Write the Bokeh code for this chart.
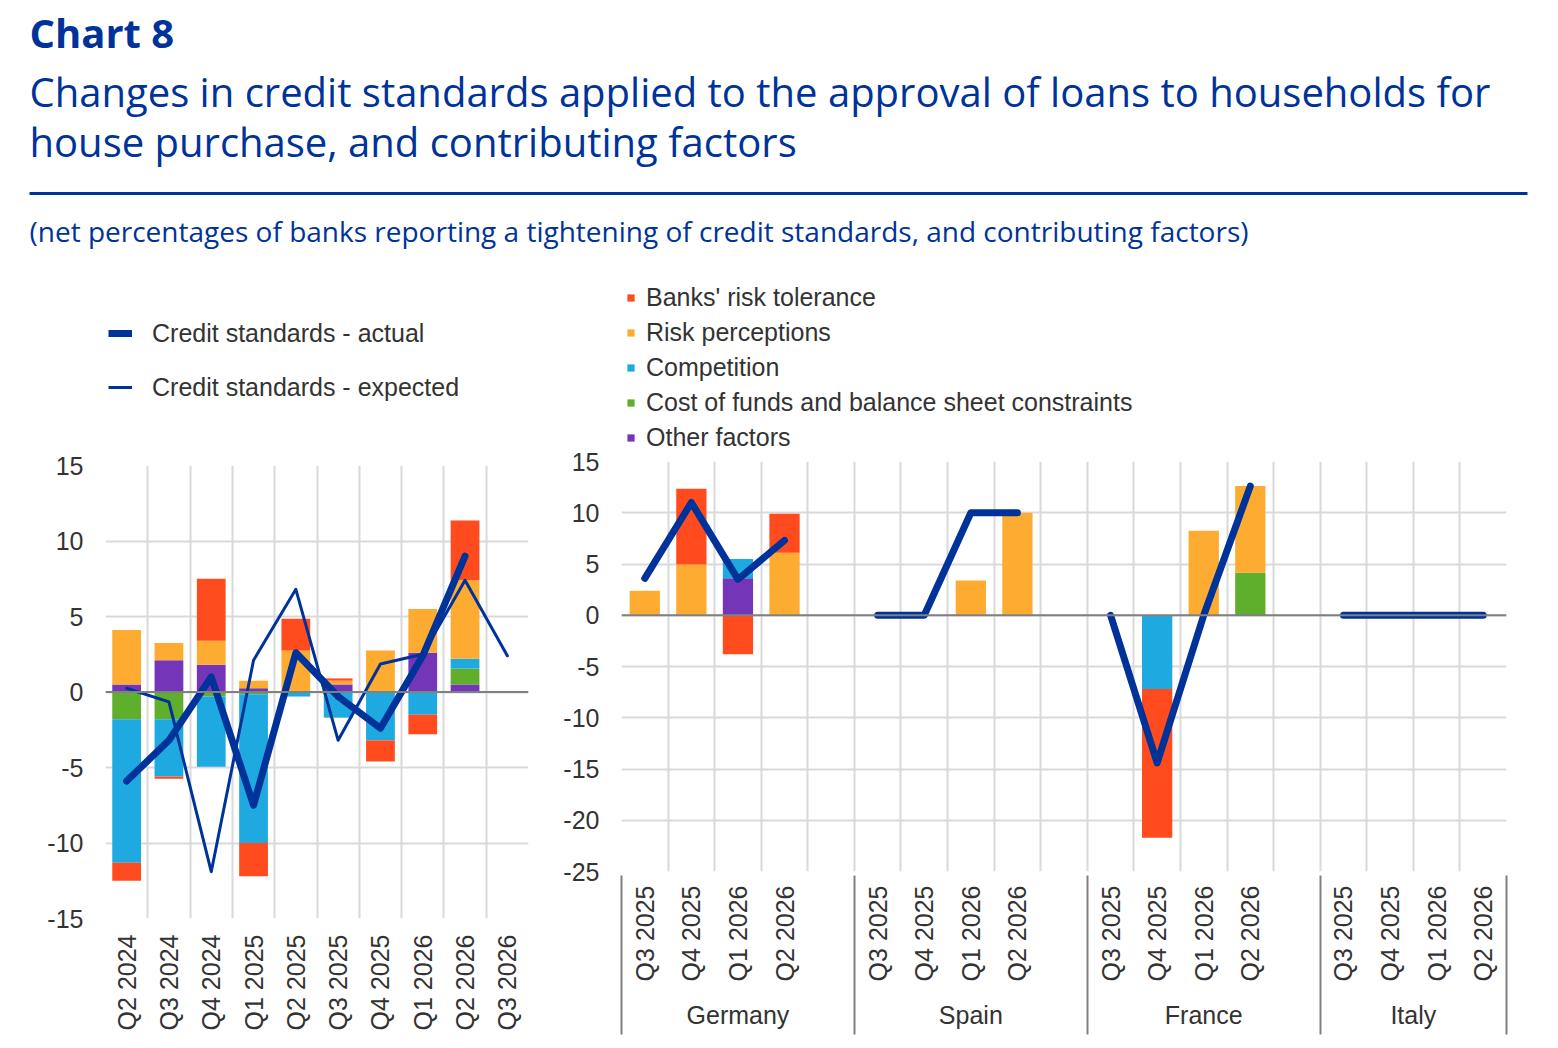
import numpy as np
from bokeh.plotting import figure
from bokeh.models import Range1d, FixedTicker, Span, Legend, LegendItem, LinearAxis
from bokeh.layouts import column, row
from bokeh.embed import file_html
from bokeh.resources import INLINE
from bokeh.core.properties import value

# ---------------- data ----------------
left_quarters = ["Q2 2024", "Q3 2024", "Q4 2024", "Q1 2025", "Q2 2025",
                 "Q3 2025", "Q4 2025", "Q1 2026", "Q2 2026", "Q3 2026"]
left_risk_tolerance = [-1.2, -0.15, 4.1, -2.2, 2.1, 0.15, -1.4, -1.3, 3.95, 0.0]
left_risk_perceptions = [3.6, 1.15, 1.6, 0.5, 2.75, 0.25, 2.75, 2.9, 5.2, 0.0]
left_competition = [-9.5, -3.8, -4.65, -9.85, -0.3, -1.7, -3.2, -1.5, 0.65, 0.0]
left_cost_of_funds = [-1.8, -1.8, -0.3, -0.15, 0.0, 0.0, 0.0, 0.0, 1.05, 0.0]
left_other = [0.5, 2.1, 1.8, 0.25, 0.0, 0.5, 0.0, 2.6, 0.5, 0.0]
left_actual = [-5.9, -3.2, 1.0, -7.5, 2.6, -0.3, -2.4, 2.4, 9.0, np.nan]
left_expected = [0.25, -0.65, -11.9, 2.1, 6.8, -3.2, 1.85, 2.5, 7.4, 2.4]

countries = ["Germany", "Spain", "France", "Italy"]
country_quarters = ["Q3 2025", "Q4 2025", "Q1 2026", "Q2 2026"]
# values per country (Germany, Spain, France, Italy), each for the four quarters
right_risk_tolerance = [[0.0, 7.4, -3.8, 3.8], [0, 0, 0, 0], [0.0, -14.5, 0.0, 0.0], [0, 0, 0, 0]]
right_risk_perceptions = [[2.4, 4.95, 0.0, 6.1], [0.0, 0.0, 3.4, 10.0], [0.0, 0.0, 8.25, 8.45], [0, 0, 0, 0]]
right_competition = [[0.0, 0.0, 1.9, 0.0], [0, 0, 0, 0], [0.0, -7.2, 0.0, 0.0], [0, 0, 0, 0]]
right_cost_of_funds = [[0, 0, 0, 0], [0, 0, 0, 0], [0.0, 0.0, 0.0, 4.15], [0, 0, 0, 0]]
right_other = [[0.0, 0.0, 3.6, 0.0], [0, 0, 0, 0], [0, 0, 0, 0], [0, 0, 0, 0]]
right_actual = [[3.6, 11.0, 3.5, 7.3], [0.0, 0.0, 10.0, 10.0], [0.0, -14.4, 0.0, 12.6], [0.0, 0.0, 0.0, 0.0]]

factor_names = ["Banks' risk tolerance", "Risk perceptions", "Competition",
                "Cost of funds and balance sheet constraints", "Other factors"]
line_names = ["Credit standards - actual", "Credit standards - expected"]
left_ticks = [-15, -10, -5, 0, 5, 10, 15]
right_ticks = [-25, -20, -15, -10, -5, 0, 5, 10, 15]

# ---------------- styles ----------------
NAVY = "#003399"
COLORS = {"Banks' risk tolerance": "#FF4B1E", "Risk perceptions": "#FDAB31",
          "Competition": "#1EA9E0", "Cost of funds and balance sheet constraints": "#5FAE2C",
          "Other factors": "#7535B8"}
GRID = "#d9d9d9"
TXT = "#333333"
CFONT = "Liberation Sans"
TFONT = "Open Sans"
FS = "25px"


def stacked(series):
    n = len(series[0])
    pos = np.zeros(n)
    neg = np.zeros(n)
    out = []
    for s in series:
        s = np.asarray(s, float)
        bottom = np.where(s >= 0, pos, neg)
        top = bottom + s
        pos = np.where(s >= 0, top, pos)
        neg = np.where(s < 0, top, neg)
        out.append((bottom, top))
    return out


def blank_fig(w, h):
    f = figure(width=w, height=h, x_range=Range1d(0, w), y_range=Range1d(h, 0),
               toolbar_location=None, output_backend="svg", min_border=0,
               x_axis_location=None, y_axis_location=None)
    f.grid.visible = False
    f.outline_line_color = None
    return f


def style_y(p, ticks):
    p.yaxis.ticker = FixedTicker(ticks=ticks)
    p.yaxis.major_label_overrides = {t: str(t) for t in ticks}
    p.ygrid.ticker = FixedTicker(ticks=ticks)
    p.yaxis.axis_line_color = None
    p.yaxis.major_tick_line_color = None
    p.yaxis.minor_tick_line_color = None
    p.yaxis.major_tick_out = 0
    p.yaxis.major_label_text_font = CFONT
    p.yaxis.major_label_text_font_size = FS
    p.yaxis.major_label_text_color = TXT
    p.yaxis.major_label_standoff = 22
    p.ygrid.grid_line_color = GRID
    p.ygrid.grid_line_width = 2
    p.xgrid.grid_line_color = GRID
    p.xgrid.grid_line_width = 2
    p.outline_line_color = None
    p.add_layout(Span(location=0, dimension="width", line_color="#808080", line_width=2))


def style_x(ax):
    ax.axis_line_color = None
    ax.major_tick_line_color = None
    ax.major_tick_out = 0
    ax.major_label_text_font = CFONT
    ax.major_label_text_font_size = FS
    ax.major_label_text_color = TXT


# ---------------- header ----------------
W = 1550
HH = 270
header = blank_fig(W, HH)
header.text(x=[29], y=[32], text=["Chart 8"], text_font=value(TFONT), text_font_size="40px",
            text_font_style="bold", text_color=NAVY, text_baseline="alphabetic")
header.text(x=[29, 29], y=[91, 141],
            text=["Changes in credit standards applied to the approval of loans to households for",
                  "house purchase, and contributing factors"],
            text_font=value(TFONT), text_font_size="40px", text_color=NAVY, text_baseline="alphabetic")
header.segment(x0=[29], x1=[1527], y0=[193], y1=[193], line_width=3, line_color=NAVY)
header.text(x=[29], y=[230],
            text=["(net percentages of banks reporting a tightening of credit standards, and contributing factors)"],
            text_font=value(TFONT), text_font_size="28px", text_color=NAVY, text_baseline="alphabetic")

LH = 179  # height of the legend strip above the two charts
LW, RW = 560, 990

# ---------------- left chart ----------------
nL = len(left_quarters)
xL = np.arange(nL)
left = figure(width=LW, height=596, x_range=Range1d(-0.5, nL - 0.5), y_range=Range1d(-15, 15),
              toolbar_location=None, output_backend="svg",
              min_border_left=105, min_border_right=32, min_border_top=16, min_border_bottom=127)
style_y(left, left_ticks)
left.xgrid.ticker = FixedTicker(ticks=list(np.arange(nL + 1) - 0.5))
left.xaxis.ticker = FixedTicker(ticks=list(range(nL)))
left.xaxis.major_label_overrides = {i: q for i, q in enumerate(left_quarters)}
left.xaxis.major_label_orientation = np.pi / 2
left.xaxis.minor_tick_line_color = None
style_x(left.xaxis[0])
left.xaxis.major_label_standoff = 16

left_series = [left_other, left_cost_of_funds, left_competition, left_risk_perceptions, left_risk_tolerance]
left_names = ["Other factors", "Cost of funds and balance sheet constraints", "Competition",
              "Risk perceptions", "Banks' risk tolerance"]
for name, (b, t) in zip(left_names, stacked(left_series)):
    left.vbar(x=xL, bottom=b, top=t, width=0.68, fill_color=COLORS[name], line_color=None)
left.line(xL, left_expected, line_color=NAVY, line_width=3, line_join="round", line_cap="round")
left.line(xL, left_actual, line_color=NAVY, line_width=7, line_join="round", line_cap="round")

# legend strip for left chart (invisible proxy glyphs carrying the same styles)
legL = blank_fig(LW, LH)
p_act = legL.line(x=[np.nan], y=[np.nan], line_color=NAVY, line_width=7)
p_exp = legL.line(x=[np.nan], y=[np.nan], line_color=NAVY, line_width=3)
legL.add_layout(Legend(items=[LegendItem(label=line_names[0], renderers=[p_act]),
                              LegendItem(label=line_names[1], renderers=[p_exp])],
                       location=(3, 47), border_line_color=None, background_fill_alpha=0,
                       label_text_font=CFONT, label_text_font_size=FS, label_text_color=TXT,
                       glyph_width=24, glyph_height=30, label_height=30, spacing=24,
                       label_standoff=20, padding=0, margin=0))

# ---------------- right chart ----------------
nslots = len(countries) * 5 - 1
xR = np.array([c * 5 + q for c in range(len(countries)) for q in range(len(country_quarters))])
right = figure(width=RW, height=596, x_range=Range1d(-0.5, nslots - 0.5), y_range=Range1d(-25, 15),
               toolbar_location=None, output_backend="svg",
               min_border_left=60, min_border_right=44, min_border_top=12, min_border_bottom=174)
style_y(right, right_ticks)
right.xgrid.ticker = FixedTicker(ticks=list(np.arange(nslots + 1) - 0.5))
right.xaxis.ticker = FixedTicker(ticks=[int(v) for v in xR])
right.xaxis.major_label_overrides = {int(x): country_quarters[i % 4] for i, x in enumerate(xR)}
right.xaxis.major_label_orientation = np.pi / 2
right.xaxis.minor_tick_line_color = None
style_x(right.xaxis[0])
right.xaxis.major_label_standoff = 14

seps = [-0.5] + [c * 5 + 4.5 for c in range(len(countries) - 1)] + [nslots - 0.5]
group_centers = [(seps[i] + seps[i + 1]) / 2 for i in range(len(countries))]
gaxis = LinearAxis(ticker=FixedTicker(ticks=group_centers, minor_ticks=seps),
                   major_label_overrides={g: c for g, c in zip(group_centers, countries)})
style_x(gaxis)
gaxis.minor_tick_in = 109
gaxis.minor_tick_out = 50
gaxis.minor_tick_line_color = "#808080"
gaxis.minor_tick_line_width = 2
gaxis.major_label_standoff = -34
right.add_layout(gaxis, "below")

flat = lambda arr: np.array(arr, float).ravel()
right_series = [flat(right_other), flat(right_cost_of_funds), flat(right_competition),
                flat(right_risk_perceptions), flat(right_risk_tolerance)]
for name, (b, t) in zip(left_names, stacked(right_series)):
    right.vbar(x=xR, bottom=b, top=t, width=0.65, fill_color=COLORS[name], line_color=None)
for c in range(len(countries)):
    right.line(xR[c * 4:(c + 1) * 4], right_actual[c], line_color=NAVY, line_width=7,
               line_join="round", line_cap="round")

# legend strip for right chart (invisible proxy glyphs carrying the same fills)
legR = blank_fig(RW, LH)
proxies = {n: legR.vbar(x=[np.nan], top=[np.nan], width=1, fill_color=COLORS[n], line_color=None)
           for n in factor_names}
legR.add_layout(Legend(items=[LegendItem(label=n, renderers=[proxies[n]]) for n in factor_names],
                       location=(5, -3), border_line_color=None, background_fill_alpha=0,
                       label_text_font=CFONT, label_text_font_size=FS, label_text_color=TXT,
                       glyph_width=9, glyph_height=9, label_height=30, spacing=5,
                       label_standoff=11, padding=0, margin=0))

page = column(header, row(column(legL, left), column(legR, right)))
open("out.html", "w").write(file_html(page, INLINE))
